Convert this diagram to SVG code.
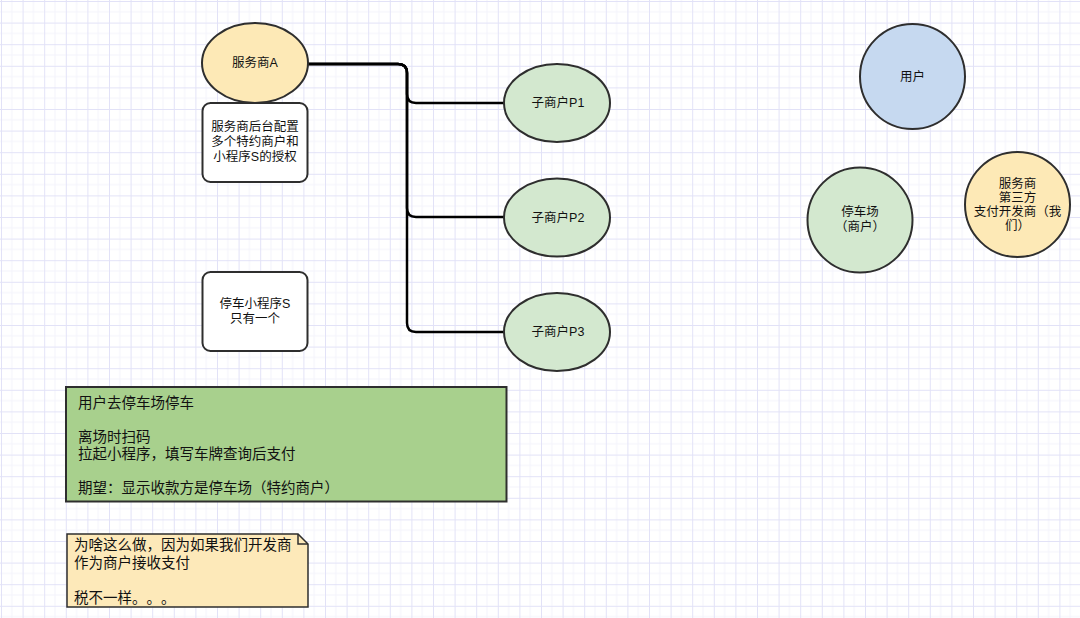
<svg xmlns="http://www.w3.org/2000/svg" width="1080" height="618" viewBox="0 0 1080 618">
<defs>
<pattern id="grid" x="1" y="1" width="21.6" height="21.6" patternUnits="userSpaceOnUse">
<path d="M10.8,0 V21.6 M0,10.8 H21.6" stroke="#f4f4fb" stroke-width="1" fill="none"/>
<path d="M0.5,0 V21.6 M0,0.5 H21.6" stroke="#e2e2f7" stroke-width="1" fill="none"/>
</pattern>
<style>
.t{font-family:"Liberation Sans","Noto Sans CJK SC",sans-serif;font-size:12.5px;fill:#111;text-spacing-trim:space-all;}
.c{text-anchor:middle;dominant-baseline:central;}
.b{font-size:14.5px;}
.s{stroke:#2e2e2e;stroke-width:2;}
.yellow{fill:#fde9b6;}
.green{fill:#d3e8cf;}
.blue{fill:#c6d9f0;}
.edge{fill:none;stroke:#000;stroke-width:2.5;}
</style>
</defs>
<rect width="1080" height="618" fill="#ffffff"/>
<rect width="1080" height="618" fill="url(#grid)"/>

<g id="connectors">
<path class="edge" d="M308,64 H398 Q407,64 407,73 V94 Q407,103 416,103 H504"/>
<path class="edge" d="M308,64 H398 Q407,64 407,73 V208 Q407,217 416,217 H504"/>
<path class="edge" d="M308,64 H398 Q407,64 407,73 V323 Q407,332 416,332 H504"/>
</g>

<g id="node-serviceA">
<ellipse class="s yellow" cx="255" cy="63" rx="53" ry="40"/>
<text class="t c" x="255" y="63">服务商A</text>
</g>

<g id="node-config">
<rect class="s" x="202.5" y="103" width="105" height="79" rx="8" fill="#fff"/>
<text class="t c" x="255" y="127">服务商后台配置</text>
<text class="t c" x="255" y="142">多个特约商户和</text>
<text class="t c" x="255" y="157">小程序S的授权</text>
</g>

<g id="node-miniapp">
<rect class="s" x="202.5" y="272" width="105" height="79" rx="8" fill="#fff"/>
<text class="t c" x="255" y="303.5">停车小程序S</text>
<text class="t c" x="255" y="318.5">只有一个</text>
</g>

<g id="node-p1">
<ellipse class="s green" cx="557" cy="103" rx="53" ry="39"/>
<text class="t c" x="558" y="103">子商户P1</text>
</g>
<g id="node-p2">
<ellipse class="s green" cx="557" cy="217.5" rx="53" ry="39"/>
<text class="t c" x="558" y="217.5">子商户P2</text>
</g>
<g id="node-p3">
<ellipse class="s green" cx="557" cy="332" rx="53" ry="39"/>
<text class="t c" x="558" y="332">子商户P3</text>
</g>

<g id="node-user">
<circle class="s blue" cx="912.5" cy="76.5" r="52.5"/>
<text class="t c" x="912.5" y="76.5">用户</text>
</g>

<g id="node-parking">
<circle class="s green" cx="860" cy="220" r="52.5"/>
<text class="t c" x="860" y="212">停车场</text>
<text class="t c" x="860" y="227">（商户）</text>
</g>

<g id="node-provider">
<circle class="s yellow" cx="1017.5" cy="204.5" r="52.5"/>
<text class="t c" x="1017.5" y="183.5">服务商</text>
<text class="t c" x="1017.5" y="197.5">第三方</text>
<text class="t c" x="1017.5" y="211.5">支付开发商（我</text>
<text class="t c" x="1017.5" y="225.5">们）</text>
</g>

<g id="node-scenario">
<rect class="s" x="66" y="387" width="440.5" height="114.5" fill="#a8d08d"/>
<text class="t b" x="78" y="403" dominant-baseline="central">用户去停车场停车</text>
<text class="t b" x="78" y="437" dominant-baseline="central">离场时扫码</text>
<text class="t b" x="78" y="454" dominant-baseline="central">拉起小程序，填写车牌查询后支付</text>
<text class="t b" x="78" y="488" dominant-baseline="central">期望：显示收款方是停车场（特约商户）</text>
</g>

<g id="node-note">
<path d="M67,534 H298 L308,544 V607 H67 Z" fill="#fde9b9" stroke="#2e2e2e" stroke-width="1.5"/>
<path d="M298,534 V544 H308" fill="none" stroke="#2e2e2e" stroke-width="1.5"/>
<text class="t b" x="74" y="545" dominant-baseline="central">为啥这么做，因为如果我们开发商</text>
<text class="t b" x="74" y="562.5" dominant-baseline="central">作为商户接收支付</text>
<text class="t b" x="74" y="597.5" dominant-baseline="central">税不一样。。。</text>
</g>
</svg>
